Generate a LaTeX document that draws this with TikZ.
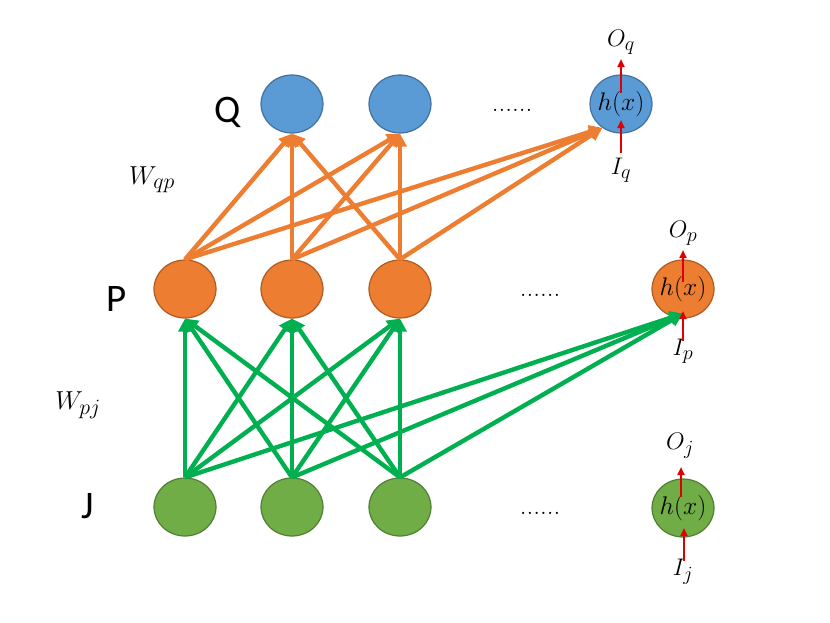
\RequirePackage{fix-cm}
\documentclass[tikz,border=0pt]{standalone}
\usepackage{fontspec}
\newfontfamily\lab{Carlito}
\usetikzlibrary{arrows.meta,backgrounds,shapes.geometric}
\newcommand\subx[1]{\scalebox{1.2}{$\scriptstyle #1$}}
\definecolor{bfill}{HTML}{5B9BD5}\definecolor{bdraw}{HTML}{41719C}
\definecolor{ofill}{HTML}{ED7D31}\definecolor{odraw}{HTML}{AE5A21}
\definecolor{gfill}{HTML}{70AD47}\definecolor{gdraw}{HTML}{507E32}
\definecolor{garrow}{HTML}{00B050}\definecolor{oarrow}{HTML}{ED7D31}
\definecolor{rarrow}{HTML}{E00000}
\tikzset{
 neuron/.style={ellipse,minimum width=62pt,minimum height=58pt,inner sep=0pt,line width=1.2pt},
 qn/.style={neuron,fill=bfill,draw=bdraw},
 pn/.style={neuron,fill=ofill,draw=odraw},
 jn/.style={neuron,fill=gfill,draw=gdraw},
 oedge/.style={draw=oarrow,line width=4.4pt,-{Triangle[length=13pt,width=13pt]}},
 gedge/.style={draw=garrow,line width=4.4pt,-{Triangle[length=13pt,width=13pt]}},
 redge/.style={draw=rarrow,line width=2pt,-{Triangle[length=8pt,width=7pt]}},
 layer/.style={font=\lab\fontsize{39}{44}\selectfont},
 mlab/.style={font=\fontsize{24}{29}\selectfont},
 wlab/.style={font=\fontsize{26}{31}\selectfont},
 hx/.style={font=\fontsize{25.5}{29}\selectfont},
 dots/.style={font=\fontsize{27}{29}\selectfont}
}
\begin{document}
\begin{tikzpicture}[x=1pt,y=-1pt]
\useasboundingbox (0,0) rectangle (830,622);
\node[qn] (Q1) at (292,104) {};
\node[qn] (Q2) at (400,104) {};
\node[qn] (Qr) at (621,104) {};
\node[pn] (P1) at (185,289) {};
\node[pn] (P2) at (292,289) {};
\node[pn] (P3) at (400,289) {};
\node[pn] (Pr) at (683,289) {};
\node[jn] (J1) at (185,507) {};
\node[jn] (J2) at (292,507) {};
\node[jn] (J3) at (400,507) {};
\node[jn] (Jr) at (683,508) {};
\node[hx] (hq) at (Qr) {$h(x)$};
\node[hx] (hp) at (Pr) {$h(x)$};
\node[hx] (hj) at (Jr) {$h(x)$};
\node[layer] (LQ) at (228,112) {Q};
\node[layer] (LP) at (117,299) {P};
\node[layer] (LJ) at (88,506) {J};
\node[wlab] (Wqp) at (152,180) {$W_{\subx{qp}}$};
\node[wlab] (Wpj) at (78,405) {$W_{\subx{pj}}$};
\node[dots] (d1) at (512,110) {......};
\node[dots] (d2) at (540,295) {......};
\node[dots] (d3) at (540,513) {......};
% orange edges
\foreach \s in {P1,P2,P3}{
  \draw[oedge] (\s.north) -- (Q1.south);
  \draw[oedge] (\s.north) -- (Q2.south);
  \draw[oedge] (\s.north) -- (Qr.-128);
}
% green edges
\foreach \s in {J1,J2,J3}{
  \draw[gedge] (\s.north) -- (P1.south);
  \draw[gedge] (\s.north) -- (P2.south);
  \draw[gedge] (\s.north) -- (P3.south);
  \draw[gedge] (\s.north) -- ([yshift=5pt]Pr.south);
}
% red in/out
\node[mlab] (Oq) at (621,42) {$O_{\subx{q}}$};
\node[mlab] (Iq) at (621,170) {$I_{\subx{q}}$};
\node[mlab] (Op) at (683,233) {$O_{\subx{p}}$};
\node[mlab] (Ip) at (683,351) {$I_{\subx{p}}$};
\node[mlab] (Oj) at (680,446) {$O_{\subx{j}}$};
\node[mlab] (Ij) at (683,572) {$I_{\subx{j}}$};
\coordinate (qi0) at (621,153); \coordinate (qi1) at (621,120);
\coordinate (qo0) at (621,93);  \coordinate (qo1) at (621,59);
\coordinate (pi0) at (683,341); \coordinate (pi1) at (683,311);
\coordinate (po0) at (683,282); \coordinate (po1) at (683,250);
\coordinate (ji0) at (684,561); \coordinate (ji1) at (684,528);
\coordinate (jo0) at (681,497); \coordinate (jo1) at (681,467);
\draw[redge] (qi0) -- (qi1);
\draw[redge] (qo0) -- (qo1);
\draw[redge] (pi0) -- (pi1);
\draw[redge] (po0) -- (po1);
\draw[redge] (ji0) -- (ji1);
\draw[redge] (jo0) -- (jo1);
\end{tikzpicture}
\end{document}
